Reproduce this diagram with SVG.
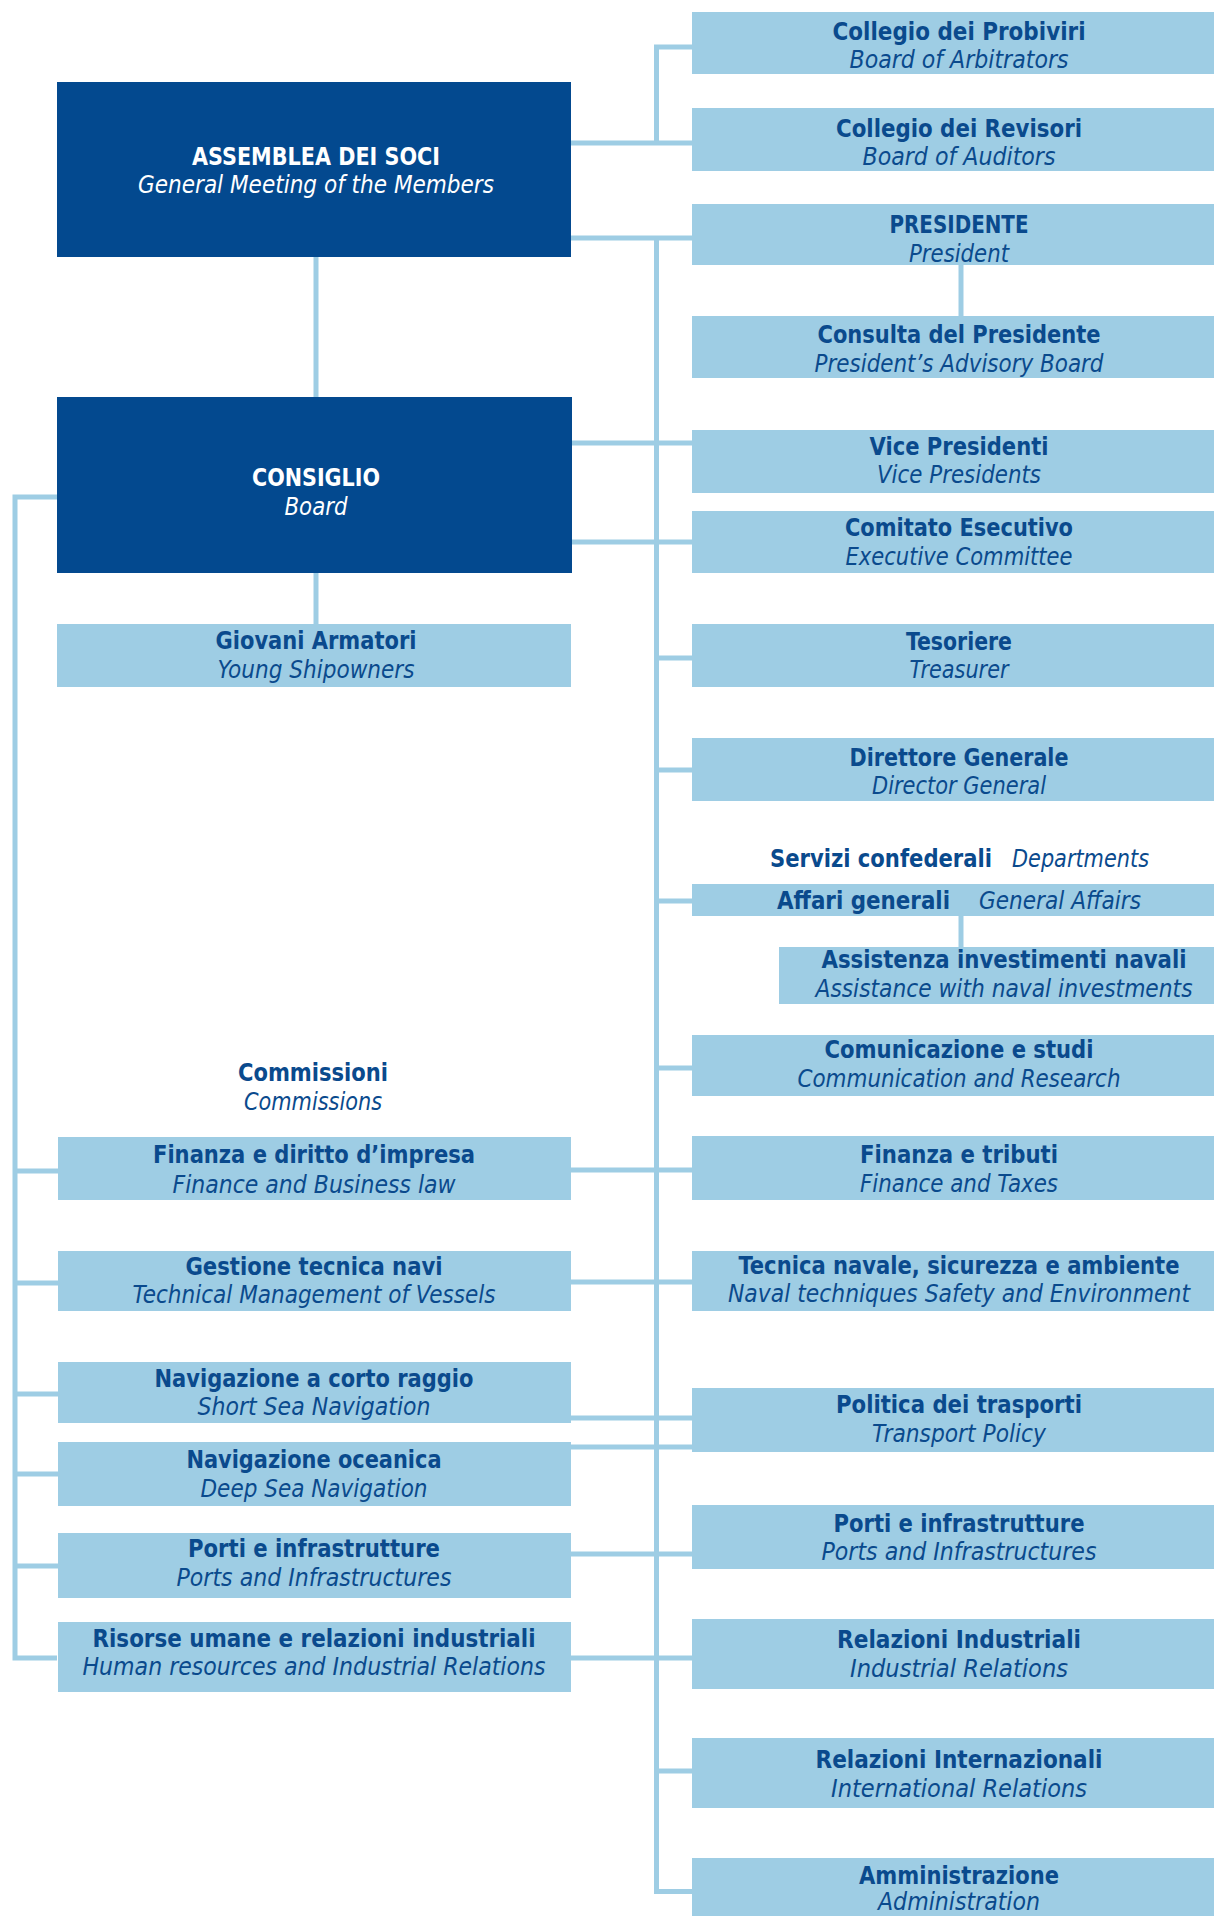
<svg xmlns="http://www.w3.org/2000/svg" width="1214" height="1916" viewBox="0 0 1214 1916">
  <style>
    .dark { fill: #03498f; }
    .light { fill: #9ecde4; }
    .t { font-family: "Liberation Sans Narrow", "DejaVu Sans Condensed", "Liberation Sans", sans-serif; font-size: 25px; fill: #0a4a8d; text-anchor: middle; }
    .b { font-weight: bold; }
    .i { font-style: italic; }
    .w { fill: #ffffff; }
    .st { text-anchor: start; }
    .conn { stroke: #9ecde4; stroke-width: 5; fill: none; stroke-linecap: butt; }
  </style>
  <rect width="1214" height="1916" fill="#ffffff"/>

  <!-- connectors -->
  <g id="connectors" class="conn">
    <!-- assembly bracket to arbitrators / auditors -->
    <path d="M571 143 H692 M656.5 45 V145.5 M654 47 H692"/>
    <!-- main right trunk from assembly -->
    <path d="M571 238 H692 M656.5 235.5 V1894"/>
    <!-- assembly to board -->
    <path d="M316 257 V397"/>
    <!-- president to advisory board -->
    <path d="M961 265 V316"/>
    <!-- board to vice presidents / executive committee -->
    <path d="M572 443 H692 M572 542 H692"/>
    <!-- board to young shipowners -->
    <path d="M316 573 V624"/>
    <!-- left commissions trunk -->
    <path d="M57 497 H15 V1658 H57"/>
    <path d="M15 1171 H58 M15 1283 H58 M15 1394 H58 M15 1474 H58 M15 1566 H58"/>
    <!-- trunk branches -->
    <path d="M656.5 658 H692 M656.5 770 H692 M656.5 901 H692 M656.5 1068 H692 M656.5 1771 H692 M654 1891.5 H692"/>
    <!-- general affairs to naval investments -->
    <path d="M961 914 V947"/>
    <!-- commissions to departments -->
    <path d="M571 1170 H692 M571 1282 H692 M571 1418 H692 M571 1447 H692 M571 1554 H692 M571 1658 H692"/>
  </g>

  <!-- left column -->
  <g id="assemblea">
    <rect class="dark" x="57" y="82" width="514" height="175"/>
    <text class="t b w" x="316" y="165" textLength="248" lengthAdjust="spacingAndGlyphs">ASSEMBLEA DEI SOCI</text>
    <text class="t i w" x="316" y="193" textLength="356" lengthAdjust="spacingAndGlyphs">General Meeting of the Members</text>
  </g>
  <g id="consiglio">
    <rect class="dark" x="57" y="397" width="515" height="176"/>
    <text class="t b w" x="316" y="486" textLength="128" lengthAdjust="spacingAndGlyphs">CONSIGLIO</text>
    <text class="t i w" x="316" y="515" textLength="63" lengthAdjust="spacingAndGlyphs">Board</text>
  </g>
  <g id="giovani-armatori">
    <rect class="light" x="57" y="624" width="514" height="63"/>
    <text class="t b" x="316" y="649" textLength="201" lengthAdjust="spacingAndGlyphs">Giovani Armatori</text>
    <text class="t i" x="316" y="678" textLength="197" lengthAdjust="spacingAndGlyphs">Young Shipowners</text>
  </g>
  <g id="commissioni-label">
    <text class="t b" x="313" y="1081" textLength="150" lengthAdjust="spacingAndGlyphs">Commissioni</text>
    <text class="t i" x="313" y="1110" textLength="138" lengthAdjust="spacingAndGlyphs">Commissions</text>
  </g>
  <g id="finanza-diritto">
    <rect class="light" x="58" y="1137" width="513" height="63"/>
    <text class="t b" x="314" y="1163" textLength="322" lengthAdjust="spacingAndGlyphs">Finanza e diritto d’impresa</text>
    <text class="t i" x="314" y="1193" textLength="283" lengthAdjust="spacingAndGlyphs">Finance and Business law</text>
  </g>
  <g id="gestione-tecnica">
    <rect class="light" x="58" y="1251" width="513" height="60"/>
    <text class="t b" x="314" y="1275" textLength="257" lengthAdjust="spacingAndGlyphs">Gestione tecnica navi</text>
    <text class="t i" x="314" y="1303" textLength="363" lengthAdjust="spacingAndGlyphs">Technical Management of Vessels</text>
  </g>
  <g id="navigazione-corto">
    <rect class="light" x="58" y="1362" width="513" height="61"/>
    <text class="t b" x="314" y="1387" textLength="319" lengthAdjust="spacingAndGlyphs">Navigazione a corto raggio</text>
    <text class="t i" x="314" y="1415" textLength="233" lengthAdjust="spacingAndGlyphs">Short Sea Navigation</text>
  </g>
  <g id="navigazione-oceanica">
    <rect class="light" x="58" y="1442" width="513" height="64"/>
    <text class="t b" x="314" y="1468" textLength="255" lengthAdjust="spacingAndGlyphs">Navigazione oceanica</text>
    <text class="t i" x="314" y="1497" textLength="227" lengthAdjust="spacingAndGlyphs">Deep Sea Navigation</text>
  </g>
  <g id="porti-commissione">
    <rect class="light" x="58" y="1533" width="513" height="65"/>
    <text class="t b" x="314" y="1557" textLength="252" lengthAdjust="spacingAndGlyphs">Porti e infrastrutture</text>
    <text class="t i" x="314" y="1586" textLength="275" lengthAdjust="spacingAndGlyphs">Ports and Infrastructures</text>
  </g>
  <g id="risorse-umane">
    <rect class="light" x="58" y="1622" width="513" height="70"/>
    <text class="t b" x="314" y="1647" textLength="443" lengthAdjust="spacingAndGlyphs">Risorse umane e relazioni industriali</text>
    <text class="t i" x="314" y="1675" textLength="463" lengthAdjust="spacingAndGlyphs">Human resources and Industrial Relations</text>
  </g>

  <!-- right column -->
  <g id="probiviri">
    <rect class="light" x="692" y="12" width="540" height="62"/>
    <text class="t b" x="959" y="40" textLength="253" lengthAdjust="spacingAndGlyphs">Collegio dei Probiviri</text>
    <text class="t i" x="959" y="68" textLength="219" lengthAdjust="spacingAndGlyphs">Board of Arbitrators</text>
  </g>
  <g id="revisori">
    <rect class="light" x="692" y="108" width="540" height="63"/>
    <text class="t b" x="959" y="137" textLength="246" lengthAdjust="spacingAndGlyphs">Collegio dei Revisori</text>
    <text class="t i" x="959" y="165" textLength="193" lengthAdjust="spacingAndGlyphs">Board of Auditors</text>
  </g>
  <g id="presidente">
    <rect class="light" x="692" y="204" width="540" height="61"/>
    <text class="t b" x="959" y="233" textLength="139" lengthAdjust="spacingAndGlyphs">PRESIDENTE</text>
    <text class="t i" x="959" y="262" textLength="100" lengthAdjust="spacingAndGlyphs">President</text>
  </g>
  <g id="consulta">
    <rect class="light" x="692" y="316" width="540" height="62"/>
    <text class="t b" x="959" y="343" textLength="283" lengthAdjust="spacingAndGlyphs">Consulta del Presidente</text>
    <text class="t i" x="959" y="372" textLength="289" lengthAdjust="spacingAndGlyphs">President’s Advisory Board</text>
  </g>
  <g id="vice-presidenti">
    <rect class="light" x="692" y="430" width="540" height="63"/>
    <text class="t b" x="959" y="455" textLength="179" lengthAdjust="spacingAndGlyphs">Vice Presidenti</text>
    <text class="t i" x="959" y="483" textLength="164" lengthAdjust="spacingAndGlyphs">Vice Presidents</text>
  </g>
  <g id="comitato-esecutivo">
    <rect class="light" x="692" y="511" width="540" height="62"/>
    <text class="t b" x="959" y="536" textLength="228" lengthAdjust="spacingAndGlyphs">Comitato Esecutivo</text>
    <text class="t i" x="959" y="565" textLength="227" lengthAdjust="spacingAndGlyphs">Executive Committee</text>
  </g>
  <g id="tesoriere">
    <rect class="light" x="692" y="624" width="540" height="63"/>
    <text class="t b" x="959" y="650" textLength="106" lengthAdjust="spacingAndGlyphs">Tesoriere</text>
    <text class="t i" x="959" y="678" textLength="99" lengthAdjust="spacingAndGlyphs">Treasurer</text>
  </g>
  <g id="direttore-generale">
    <rect class="light" x="692" y="738" width="540" height="63"/>
    <text class="t b" x="959" y="766" textLength="219" lengthAdjust="spacingAndGlyphs">Direttore Generale</text>
    <text class="t i" x="959" y="794" textLength="174" lengthAdjust="spacingAndGlyphs">Director General</text>
  </g>
  <g id="servizi-label">
    <text class="t b st" x="770" y="867" textLength="222" lengthAdjust="spacingAndGlyphs">Servizi confederali</text>
    <text class="t i st" x="1012" y="867" textLength="137" lengthAdjust="spacingAndGlyphs">Departments</text>
  </g>
  <g id="affari-generali">
    <rect class="light" x="692" y="884" width="540" height="32"/>
    <text class="t b st" x="777" y="909" textLength="173" lengthAdjust="spacingAndGlyphs">Affari generali</text>
    <text class="t i st" x="979" y="909" textLength="162" lengthAdjust="spacingAndGlyphs">General Affairs</text>
  </g>
  <g id="assistenza">
    <rect class="light" x="779" y="947" width="453" height="57"/>
    <text class="t b" x="1004" y="968" textLength="365" lengthAdjust="spacingAndGlyphs">Assistenza investimenti navali</text>
    <text class="t i" x="1004" y="997" textLength="377" lengthAdjust="spacingAndGlyphs">Assistance with naval investments</text>
  </g>
  <g id="comunicazione">
    <rect class="light" x="692" y="1035" width="540" height="61"/>
    <text class="t b" x="959" y="1058" textLength="269" lengthAdjust="spacingAndGlyphs">Comunicazione e studi</text>
    <text class="t i" x="959" y="1087" textLength="323" lengthAdjust="spacingAndGlyphs">Communication and Research</text>
  </g>
  <g id="finanza-tributi">
    <rect class="light" x="692" y="1136" width="540" height="64"/>
    <text class="t b" x="959" y="1163" textLength="198" lengthAdjust="spacingAndGlyphs">Finanza e tributi</text>
    <text class="t i" x="959" y="1192" textLength="198" lengthAdjust="spacingAndGlyphs">Finance and Taxes</text>
  </g>
  <g id="tecnica-navale">
    <rect class="light" x="692" y="1251" width="540" height="60"/>
    <text class="t b" x="959" y="1274" textLength="441" lengthAdjust="spacingAndGlyphs">Tecnica navale, sicurezza e ambiente</text>
    <text class="t i" x="959" y="1302" textLength="462" lengthAdjust="spacingAndGlyphs">Naval techniques Safety and Environment</text>
  </g>
  <g id="politica-trasporti">
    <rect class="light" x="692" y="1388" width="540" height="64"/>
    <text class="t b" x="959" y="1413" textLength="246" lengthAdjust="spacingAndGlyphs">Politica dei trasporti</text>
    <text class="t i" x="959" y="1442" textLength="174" lengthAdjust="spacingAndGlyphs">Transport Policy</text>
  </g>
  <g id="porti-servizio">
    <rect class="light" x="692" y="1505" width="540" height="64"/>
    <text class="t b" x="959" y="1532" textLength="251" lengthAdjust="spacingAndGlyphs">Porti e infrastrutture</text>
    <text class="t i" x="959" y="1560" textLength="275" lengthAdjust="spacingAndGlyphs">Ports and Infrastructures</text>
  </g>
  <g id="relazioni-industriali">
    <rect class="light" x="692" y="1619" width="540" height="70"/>
    <text class="t b" x="959" y="1648" textLength="244" lengthAdjust="spacingAndGlyphs">Relazioni Industriali</text>
    <text class="t i" x="959" y="1677" textLength="218" lengthAdjust="spacingAndGlyphs">Industrial Relations</text>
  </g>
  <g id="relazioni-internazionali">
    <rect class="light" x="692" y="1738" width="540" height="70"/>
    <text class="t b" x="959" y="1768" textLength="287" lengthAdjust="spacingAndGlyphs">Relazioni Internazionali</text>
    <text class="t i" x="959" y="1797" textLength="256" lengthAdjust="spacingAndGlyphs">International Relations</text>
  </g>
  <g id="amministrazione">
    <rect class="light" x="692" y="1858" width="540" height="80"/>
    <text class="t b" x="959" y="1884" textLength="200" lengthAdjust="spacingAndGlyphs">Amministrazione</text>
    <text class="t i" x="959" y="1910" textLength="162" lengthAdjust="spacingAndGlyphs">Administration</text>
  </g>
</svg>
